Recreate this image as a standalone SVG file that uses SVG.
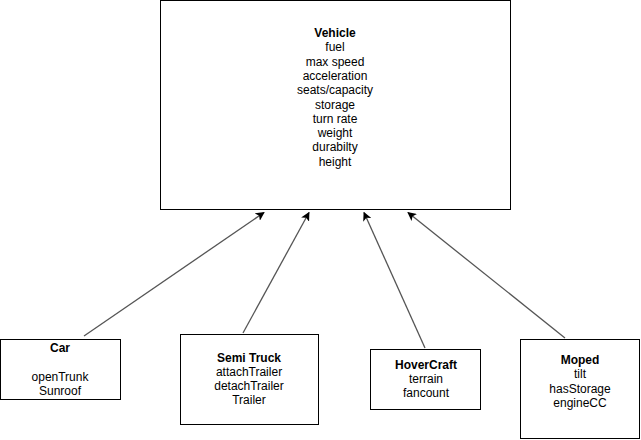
<svg xmlns="http://www.w3.org/2000/svg" width="641" height="440" viewBox="0 0 641 440">
<style>
.box{fill:#fff;stroke:#000;stroke-width:1}
text{font-family:"Liberation Sans",Arial,sans-serif;font-size:12px;fill:#000;text-anchor:middle}
.b{font-weight:bold}
.edge{stroke:#555;stroke-width:1.3;fill:none}
</style>
<defs>
<marker id="arr" viewBox="0 0 10 10" refX="9" refY="5" markerWidth="9" markerHeight="9" markerUnits="userSpaceOnUse" orient="auto">
<path d="M0,0 L10,5 L0,10 L2.5,5 Z" fill="#000"/>
</marker>
</defs>
<rect width="641" height="440" fill="#fff"/>
<g id="connectors">
<line class="edge" x1="84" y1="336" x2="264" y2="212.5" marker-end="url(#arr)"/>
<line class="edge" x1="243" y1="333" x2="309" y2="212.5" marker-end="url(#arr)"/>
<line class="edge" x1="425" y1="348" x2="364" y2="212.5" marker-end="url(#arr)"/>
<line class="edge" x1="565" y1="338" x2="408" y2="212.5" marker-end="url(#arr)"/>
</g>
<g id="vehicle">
<rect class="box" x="160.5" y="0.5" width="350" height="209"/>
<text x="335" y="37" class="b">Vehicle</text>
<text x="335" y="51">fuel</text>
<text x="335" y="65.5">max speed</text>
<text x="335" y="80">acceleration</text>
<text x="335" y="94">seats/capacity</text>
<text x="335" y="108.5">storage</text>
<text x="335" y="122.5">turn rate</text>
<text x="335" y="137">weight</text>
<text x="335" y="151">durabilty</text>
<text x="335" y="166">height</text>
</g>
<g id="car">
<rect class="box" x="0.5" y="339.5" width="120" height="60"/>
<text x="60" y="351.5" class="b">Car</text>
<text x="60" y="381">openTrunk</text>
<text x="60" y="395">Sunroof</text>
</g>
<g id="semitruck">
<rect class="box" x="180.5" y="334.5" width="138" height="90"/>
<text x="249" y="361.5" class="b">Semi Truck</text>
<text x="249" y="375.5">attachTrailer</text>
<text x="249" y="390">detachTrailer</text>
<text x="249" y="404">Trailer</text>
</g>
<g id="hovercraft">
<rect class="box" x="370.5" y="349.5" width="110" height="60"/>
<text x="426" y="368.5" class="b">HoverCraft</text>
<text x="426" y="383">terrain</text>
<text x="426" y="397">fancount</text>
</g>
<g id="moped">
<rect class="box" x="520.5" y="339.5" width="119" height="99"/>
<text x="580" y="364" class="b">Moped</text>
<text x="580" y="378">tilt</text>
<text x="580" y="392.5">hasStorage</text>
<text x="580" y="407">engineCC</text>
</g>
</svg>
